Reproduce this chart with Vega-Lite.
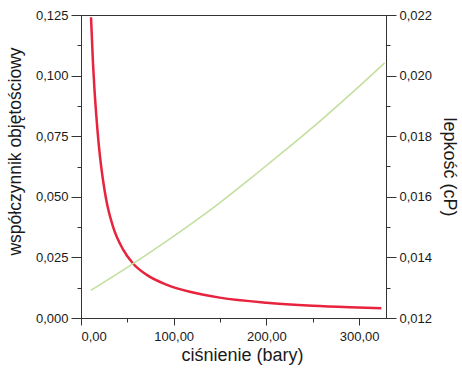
{
  "$schema": "https://vega.github.io/schema/vega-lite/v6.json",
  "width": 305,
  "height": 303,
  "autosize": {"type": "none"},
  "padding": {"left": 81, "top": 15, "right": 76, "bottom": 53},
  "background": "white",
  "config": {
    "font": "Liberation Sans",
    "view": {"stroke": "#333", "strokeWidth": 1},
    "axis": {
      "labelFont": "Liberation Sans",
      "titleFont": "Liberation Sans",
      "labelColor": "#1a1a1a",
      "titleColor": "#1a1a1a",
      "titleFontWeight": "normal",
      "grid": false,
      "domainColor": "#333",
      "tickColor": "#333",
      "labelFontSize": 13,
      "titleFontSize": 18
    }
  },
  "datasets": {
    "bg": [
      {"p": 10.8, "v": 0.1241},
      {"p": 12.9, "v": 0.1054},
      {"p": 14.5, "v": 0.0945},
      {"p": 16.6, "v": 0.0831},
      {"p": 19.4, "v": 0.0706},
      {"p": 21.6, "v": 0.0630},
      {"p": 25.6, "v": 0.0523},
      {"p": 28.5, "v": 0.0463},
      {"p": 34.5, "v": 0.0377},
      {"p": 45.3, "v": 0.0283},
      {"p": 56.1, "v": 0.0225},
      {"p": 70.5, "v": 0.0179},
      {"p": 92.1, "v": 0.0138},
      {"p": 117.3, "v": 0.0108},
      {"p": 149.6, "v": 0.0084},
      {"p": 200.0, "v": 0.0063},
      {"p": 250.0, "v": 0.0051},
      {"p": 290.0, "v": 0.00448},
      {"p": 324.0, "v": 0.00407}
    ],
    "visc": [
      {"p": 10.5, "v": 0.01291},
      {"p": 52.5, "v": 0.01372},
      {"p": 93.9, "v": 0.01457},
      {"p": 149.6, "v": 0.01580},
      {"p": 185.5, "v": 0.01667},
      {"p": 221.6, "v": 0.01757},
      {"p": 257.5, "v": 0.01849},
      {"p": 293.4, "v": 0.01946},
      {"p": 327.6, "v": 0.02042}
    ]
  },
  "layer": [
    {
      "layer": [
        {
          "data": {"name": "bg"},
          "mark": {"type": "line", "color": "#e8233d", "strokeWidth": 2.5, "interpolate": "monotone"},
          "encoding": {
            "x": {
              "field": "p", "type": "quantitative",
              "scale": {"domain": [0, 329], "nice": false, "zero": false},
              "axis": {
                "orient": "bottom", "values": [0, 100, 200, 300], "tickSize": 7, "labelPadding": 5,
                "labelExpr": "replace(format(datum.value,'.2f'),'.',',')",
                "title": "ciśnienie (bary)", "titlePadding": 3, "titleX": 161
              }
            },
            "y": {
              "field": "v", "type": "quantitative",
              "scale": {"domain": [0, 0.125], "nice": false, "zero": false},
              "axis": {
                "orient": "left", "values": [0, 0.025, 0.05, 0.075, 0.1, 0.125], "tickSize": 10, "labelPadding": 3,
                "labelExpr": "replace(format(datum.value,'.3f'),'.',',')",
                "title": "współczynnik objętościowy", "titleFontSize": 17.5, "titlePadding": 11, "titleY": 136
              }
            }
          }
        },
        {
          "data": {"name": "bg"},
          "mark": {"type": "line", "strokeOpacity": 0},
          "encoding": {
            "x": {
              "field": "p", "type": "quantitative",
              "scale": {"domain": [0, 329], "nice": false, "zero": false},
              "axis": {"orient": "bottom", "values": [50, 150, 250], "tickSize": 4, "labels": false, "domain": false, "title": null}
            },
            "y": {
              "field": "v", "type": "quantitative",
              "scale": {"domain": [0, 0.125], "nice": false, "zero": false},
              "axis": {"orient": "left", "values": [0.0125, 0.0375, 0.0625, 0.0875, 0.1125], "tickSize": 4, "labels": false, "domain": false, "title": null}
            }
          }
        }
      ],
      "resolve": {"axis": {"x": "independent", "y": "independent"}}
    },
    {
      "layer": [
        {
          "data": {"name": "visc"},
          "mark": {"type": "line", "color": "#c4df9f", "strokeWidth": 1.6, "interpolate": "monotone"},
          "encoding": {
            "x": {
              "field": "p", "type": "quantitative",
              "scale": {"domain": [0, 329], "nice": false, "zero": false},
              "axis": null
            },
            "y": {
              "field": "v", "type": "quantitative",
              "scale": {"domain": [0.012, 0.022], "nice": false, "zero": false},
              "axis": {
                "orient": "right", "values": [0.012, 0.014, 0.016, 0.018, 0.02, 0.022], "tickSize": 10, "labelPadding": 3,
                "labelExpr": "replace(format(datum.value,'.3f'),'.',',')",
                "title": "lepkość (cP)", "titlePadding": 8
              }
            }
          }
        },
        {
          "data": {"name": "visc"},
          "mark": {"type": "line", "strokeOpacity": 0},
          "encoding": {
            "x": {
              "field": "p", "type": "quantitative",
              "scale": {"domain": [0, 329], "nice": false, "zero": false},
              "axis": null
            },
            "y": {
              "field": "v", "type": "quantitative",
              "scale": {"domain": [0.012, 0.022], "nice": false, "zero": false},
              "axis": {"orient": "right", "values": [0.013, 0.015, 0.017, 0.019, 0.021], "tickSize": 4, "labels": false, "domain": false, "title": null}
            }
          }
        }
      ],
      "resolve": {"axis": {"y": "independent"}}
    }
  ],
  "resolve": {"scale": {"y": "independent"}, "axis": {"x": "independent"}}
}
